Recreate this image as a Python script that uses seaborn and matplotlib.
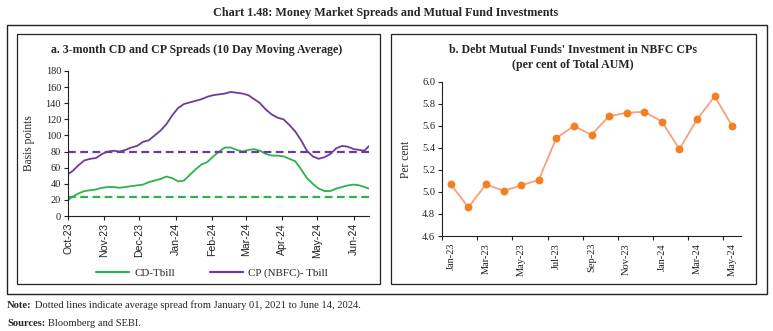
import matplotlib
matplotlib.use("Agg")
import matplotlib.pyplot as plt
import matplotlib.dates as mdates
from matplotlib.patches import Rectangle
from matplotlib.lines import Line2D
import seaborn as sns
import pandas as pd
import numpy as np

sns.set_theme(style="white")
plt.rcParams['font.family'] = ['Liberation Serif', 'DejaVu Serif']

# ---------------- data ----------------
spread_dates = ["2023-10-01", "2023-10-05", "2023-10-10", "2023-10-15", "2023-10-20", "2023-10-25",
                "2023-10-30", "2023-11-04", "2023-11-09", "2023-11-14", "2023-11-19", "2023-11-24",
                "2023-11-29", "2023-12-04", "2023-12-09", "2023-12-14", "2023-12-19", "2023-12-24",
                "2023-12-29", "2024-01-03", "2024-01-08", "2024-01-13", "2024-01-18", "2024-01-23",
                "2024-01-28", "2024-02-02", "2024-02-07", "2024-02-12", "2024-02-17", "2024-02-22",
                "2024-02-27", "2024-03-03", "2024-03-08", "2024-03-13", "2024-03-18", "2024-03-23",
                "2024-03-28", "2024-04-02", "2024-04-07", "2024-04-12", "2024-04-17", "2024-04-22",
                "2024-04-27", "2024-05-02", "2024-05-07", "2024-05-12", "2024-05-17", "2024-05-22",
                "2024-05-27", "2024-06-01", "2024-06-06", "2024-06-10", "2024-06-14"]
cp_spread = [52, 56, 63, 69, 71, 72, 77, 80, 81, 80, 82, 85, 87, 92, 94, 100, 106, 114, 125, 134,
             139, 141, 143, 145, 148, 150, 151, 152, 154, 153, 152, 150, 145, 140, 132, 126, 122, 120,
             113, 105, 94, 81, 74, 71, 73, 77, 84, 87, 86, 83, 82, 81, 87]
cd_spread = [20, 24, 28, 31, 32, 33, 35, 36, 36, 35, 36, 37, 38, 39, 42, 44, 46, 49, 47, 43,
             44, 51, 58, 64, 67, 74, 80, 85, 85, 82, 80, 82, 83, 81, 77, 75, 75, 74,
             71, 68, 58, 47, 40, 34, 31, 31, 34, 36, 38, 39, 38, 36, 34]
cp_avg = 80
cd_avg = 23

months_b = ["Jan-23", "Feb-23", "Mar-23", "Apr-23", "May-23", "Jun-23", "Jul-23", "Aug-23", "Sep-23",
            "Oct-23", "Nov-23", "Dec-23", "Jan-24", "Feb-24", "Mar-24", "Apr-24", "May-24"]
mf_share = [5.07, 4.86, 5.07, 5.01, 5.06, 5.11, 5.49, 5.60, 5.52, 5.69, 5.72, 5.73, 5.64, 5.39,
            5.66, 5.87, 5.60]

GREEN = "#2EB24B"
PURPLE = "#6A3D9A"
ORANGE = "#F47F20"
ORANGE_LINE = "#F7A07A"
INK = "#222222"

df_a = pd.DataFrame({"date": pd.to_datetime(spread_dates), "CD-Tbill": cd_spread,
                     "CP (NBFC)- Tbill": cp_spread})
df_b = pd.DataFrame({"month": months_b, "idx": np.arange(len(months_b)), "value": mf_share})

W, H = 773, 331
fig = plt.figure(figsize=(W / 100, H / 100), dpi=100)

def fx(x):
    return x / W

def fy(y):
    return 1 - y / H

def box(x0, y0, x1, y1, lw=1.0):
    fig.patches.append(Rectangle((fx(x0), fy(y1)), (x1 - x0) / W, (y1 - y0) / H,
                                 transform=fig.transFigure, fill=False, edgecolor=INK,
                                 linewidth=lw))

box(7, 25, 767, 294, 1.0)
box(17, 34, 380, 284, 0.9)
box(391, 34, 756, 284, 0.9)

fig.text(fx(386), fy(13), "Chart 1.48: Money Market Spreads and Mutual Fund Investments",
         ha="center", va="center", fontsize=8.7, fontweight="bold")

renderer = fig.canvas.get_renderer()

def bold_then_normal(x, y, bold, normal, size):
    t = fig.text(fx(x), fy(y), bold, ha="left", va="center", fontsize=size, fontweight="bold")
    bb = t.get_window_extent(renderer=renderer)
    fig.text(fx(bb.x1 + 3), fy(y), normal, ha="left", va="center", fontsize=size)

bold_then_normal(7, 305, "Note:", "Dotted lines indicate average spread from January 01, 2021 to June 14, 2024.", 7.6)
bold_then_normal(7, 323, "Sources:", "Bloomberg and SEBI.", 7.6)

# ---------------- panel a ----------------
axa = fig.add_axes([fx(68), fy(216), (369 - 68) / W, (216 - 71) / H])
sns.lineplot(data=df_a, x="date", y="CD-Tbill", ax=axa, color=GREEN, linewidth=1.3)
sns.lineplot(data=df_a, x="date", y="CP (NBFC)- Tbill", ax=axa, color=PURPLE, linewidth=1.3)
axa.axhline(cd_avg, color=GREEN, linestyle=(0, (3.5, 2)), linewidth=1.6)
axa.axhline(cp_avg, color=PURPLE, linestyle=(0, (3.5, 2)), linewidth=1.6)
axa.set_xlim(pd.Timestamp("2023-10-01"), pd.Timestamp("2024-06-14"))
axa.set_ylim(0, 180)
axa.set_yticks(np.arange(0, 181, 20))
axa.xaxis.set_major_locator(mdates.MonthLocator())
axa.xaxis.set_major_formatter(mdates.DateFormatter("%b-%y"))
for lab in axa.get_xticklabels():
    lab.set_rotation(90)
    lab.set_fontfamily(["Liberation Sans", "DejaVu Sans"])
axa.tick_params(axis="x", labelsize=7.6, length=3, width=0.8, direction="out", bottom=True, pad=2, colors=INK)
axa.tick_params(axis="y", labelsize=7.4, length=3, width=0.8, direction="out", left=True, pad=2, colors=INK)
axa.set_xlabel("")
axa.set_ylabel("Basis points", fontsize=8.3)
axa.yaxis.set_label_coords((35 - 68) / 301, 0.5)
for s in ["top", "right"]:
    axa.spines[s].set_visible(False)
for s in ["left", "bottom"]:
    axa.spines[s].set_color(INK)
    axa.spines[s].set_linewidth(0.8)
fig.text(fx(197), fy(50), "a. 3-month CD and CP Spreads (10 Day Moving Average)", fontsize=8.6,
         fontweight="bold", ha="center", va="center")
handles = [Line2D([], [], color=GREEN, linewidth=1.6), Line2D([], [], color=PURPLE, linewidth=1.6)]
fig.legend(handles, ["CD-Tbill", "CP (NBFC)- Tbill"], loc="center", ncol=2,
           bbox_to_anchor=(fx(212), fy(273)), frameon=False, fontsize=7.9,
           handlelength=3.0, columnspacing=3.2, handletextpad=0.5)

# ---------------- panel b ----------------
axb = fig.add_axes([fx(442), fy(236), (741 - 442) / W, (236 - 82) / H])
sns.lineplot(data=df_b, x="idx", y="value", ax=axb, color=ORANGE_LINE, linewidth=1.3)
sns.scatterplot(data=df_b, x="idx", y="value", ax=axb, color=ORANGE, s=32, edgecolor=ORANGE,
                linewidth=0, zorder=3)
axb.set_xlim(-0.5, len(months_b) - 0.5)
axb.set_ylim(4.6, 6.0)
axb.set_yticks(np.arange(4.6, 6.01, 0.2))
axb.set_yticklabels([f"{v:.1f}" for v in np.arange(4.6, 6.01, 0.2)])
axb.set_xticks(np.arange(0, len(months_b), 2))
axb.set_xticklabels(months_b[::2], rotation=90)
axb.set_xticks(np.arange(-0.5, len(months_b), 2), minor=True)
axb.tick_params(axis="x", which="major", labelsize=7.5, length=0, pad=5, colors=INK)
axb.tick_params(axis="x", which="minor", length=3, width=0.8, direction="out", bottom=True,
                colors=INK)
axb.tick_params(axis="y", labelsize=7.5, length=3, width=0.8, direction="out", left=True, pad=2,
                colors=INK)
axb.set_xlabel("")
axb.set_ylabel("Per cent", fontsize=8.3)
axb.yaxis.set_label_coords((412 - 442) / 299, 0.5)
for s in ["top", "right"]:
    axb.spines[s].set_visible(False)
for s in ["left", "bottom"]:
    axb.spines[s].set_color(INK)
    axb.spines[s].set_linewidth(0.8)
fig.text(fx(573), fy(50), "b. Debt Mutual Funds' Investment in NBFC CPs", fontsize=8.6,
         fontweight="bold", ha="center", va="center")
fig.text(fx(573), fy(65), "(per cent of Total AUM)", fontsize=8.6,
         fontweight="bold", ha="center", va="center")

fig.savefig("out.png", dpi=100)
